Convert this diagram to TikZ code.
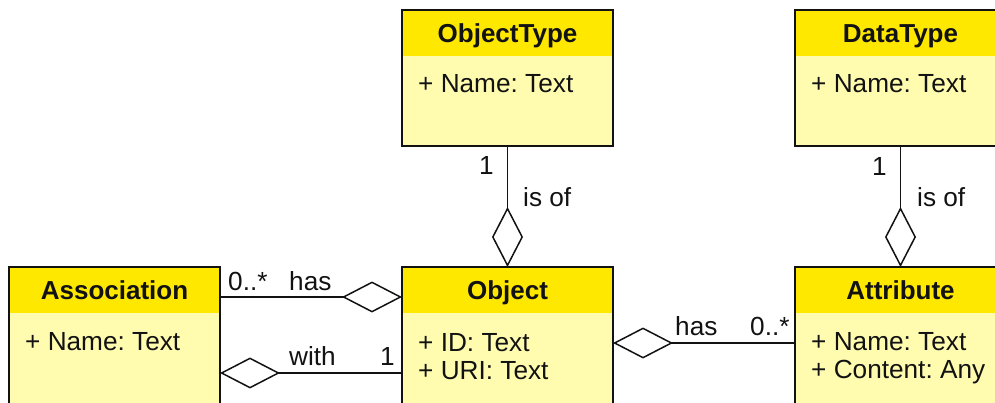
\documentclass[tikz,border=0pt]{standalone}
\usepackage{fontspec}
\setmainfont{Liberation Sans}
\usetikzlibrary{arrows.meta}
\definecolor{headyellow}{RGB}{255,232,0}
\definecolor{bodyyellow}{RGB}{255,252,176}
\definecolor{ink}{RGB}{18,18,18}

\begin{document}
\frenchspacing
\begin{tikzpicture}[x=1pt,y=-1pt,
  txt/.style={font=\fontsize{26.2}{30}\selectfont, inner sep=0pt, text=ink},
  classbox/.style={draw=ink, line width=1.8pt, fill=bodyyellow,
    minimum width=211pt, inner sep=0pt, outer sep=0pt,
    path picture={\fill[headyellow] (path picture bounding box.north west)
      rectangle ([yshift=-46pt]path picture bounding box.north east);}},
  topbox/.style={classbox, minimum height=136pt},
  lowbox/.style={classbox, minimum height=166pt},
  title/.style={txt, font=\fontsize{26}{30}\selectfont\bfseries, anchor=base},
  member/.style={txt, anchor=base west},
  lbl/.style={txt, anchor=base west},
  link/.style={draw=ink, line width=1.5pt},
  agg/.style={-{Diamond[length=60pt,width=31pt,fill=white,line width=1.5pt]}},
  gga/.style={{Diamond[length=60pt,width=31pt,fill=white,line width=1.5pt]}-}
]
\clip (0,0) rectangle (995,403);

% class boxes
\node[topbox] (otype) at (507.5,78) {};
\node[topbox] (dtype) at (900.5,78) {};
\node[lowbox] (assoc) at (114.5,350) {};
\node[lowbox] (obj)   at (507.5,350) {};
\node[lowbox] (attr)  at (900.5,350) {};

% titles
\node[title] (otypeT) at (507.5,43) {ObjectType};
\node[title] (dtypeT) at (900.5,43) {DataType};
\node[title] (assocT) at (114.5,299) {Association};
\node[title] (objT)   at (507.5,299) {Object};
\node[title] (attrT)  at (900.5,299) {Attribute};

% members
\node[member] (otypeA) at (418,93) {+ Name: Text};
\node[member] (dtypeA) at (811,93) {+ Name: Text};
\node[member] (assocA) at (25,350) {+ Name: Text};
\node[member] (objA)   at (418,351) {+ ID: Text};
\node[member] (objB)   at (418,379) {+ URI: Text};
\node[member] (attrA)  at (811,350) {+ Name: Text};
\node[member] (attrB)  at (811,378) {+ Content: Any};

% aggregations
\draw[link,agg] (otype.south) -- (obj.north);
\draw[link,agg] (dtype.south) -- (attr.north);
\draw[link,agg] ([yshift=-30pt]assoc.north east) -- ([yshift=-30pt]obj.north west);
\draw[link,gga] ([yshift=-106pt]assoc.north east) -- ([yshift=-106pt]obj.north west);
\draw[link,gga] ([yshift=-76pt]obj.north east) -- ([yshift=-76pt]attr.north west);

% connector labels
\node[lbl] (m1) at (479,175) {1};
\node[lbl] (r1) at (523,207) {is of};
\node[lbl] (m2) at (872,176) {1};
\node[lbl] (r2) at (917,207) {is of};
\node[lbl] (m3) at (228,290) {0..*};
\node[lbl] (r3) at (289,290) {has};
\node[lbl] (r4) at (289,365) {with};
\node[lbl] (m4) at (380,365) {1};
\node[lbl] (r5) at (675,335) {has};
\node[lbl] (m5) at (750,335) {0..*};
\end{tikzpicture}
\end{document}
